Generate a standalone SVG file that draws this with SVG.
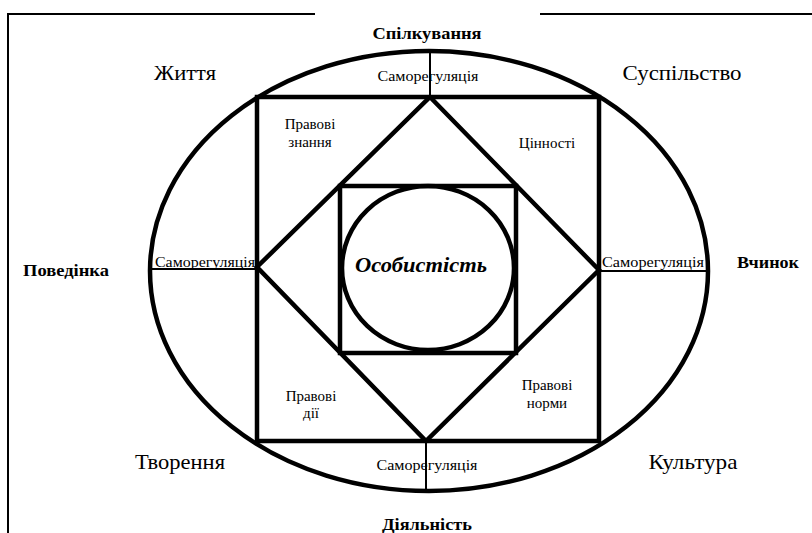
<svg xmlns="http://www.w3.org/2000/svg" width="812" height="533" viewBox="0 0 812 533">
<style>
text{font-family:'Liberation Serif','Times New Roman',serif;fill:#000;text-anchor:middle}
.big{font-size:21px}
.bold{font-size:17px;font-weight:bold}
.sm{font-size:15px}
.thick{fill:none;stroke:#000;stroke-width:4.5}
.thin{fill:none;stroke:#000;stroke-width:2}
</style>
<rect width="812" height="533" fill="#fff"/>
<g id="frame">
<path class="thin" d="M8,533 V14 H315 M540,14 H812"/>
</g>
<g id="outer-ellipse"><ellipse class="thick" cx="429" cy="271" rx="279" ry="220"/></g>
<g id="outer-rect"><rect class="thick" x="257" y="97" width="342" height="344"/></g>
<g id="diamond"><polygon class="thick" points="430,97 599,270 426,441 257,267"/></g>
<g id="inner-square"><rect class="thick" x="340" y="186" width="176" height="167"/></g>
<g id="connectors">
<line class="thin" x1="430" y1="51" x2="430" y2="97"/>
<line class="thin" x1="426" y1="441" x2="426" y2="491"/>
<line class="thin" x1="150" y1="269" x2="257" y2="269"/>
<line class="thin" x1="599" y1="271" x2="708" y2="271"/>
</g>
<g id="personality">
<ellipse class="thick" cx="428" cy="268" rx="86" ry="82"/>
<text x="421" y="272" font-size="22" font-weight="bold" font-style="italic" textLength="132" lengthAdjust="spacingAndGlyphs">Особистість</text>
</g>
<g id="labels-outer">
<text class="big" x="185" y="80" textLength="62" lengthAdjust="spacingAndGlyphs">Життя</text>
<text class="big" x="682" y="80" textLength="119" lengthAdjust="spacingAndGlyphs">Суспільство</text>
<text class="big" x="180" y="469" textLength="90" lengthAdjust="spacingAndGlyphs">Творення</text>
<text class="big" x="693" y="469" textLength="89" lengthAdjust="spacingAndGlyphs">Культура</text>
<text class="bold" x="427" y="39" textLength="109" lengthAdjust="spacingAndGlyphs">Спілкування</text>
<text class="bold" x="427" y="530" textLength="90" lengthAdjust="spacingAndGlyphs">Діяльність</text>
<text class="bold" x="66" y="276" textLength="86" lengthAdjust="spacingAndGlyphs">Поведінка</text>
<text class="bold" x="768" y="268" textLength="62" lengthAdjust="spacingAndGlyphs">Вчинок</text>
</g>
<g id="labels-self">
<text class="sm" x="428" y="81" textLength="101" lengthAdjust="spacingAndGlyphs">Саморегуляція</text>
<text class="sm" x="427" y="470" textLength="101" lengthAdjust="spacingAndGlyphs">Саморегуляція</text>
<text class="sm" x="205" y="267" textLength="100" lengthAdjust="spacingAndGlyphs">Саморегуляція</text>
<text class="sm" x="653" y="267" textLength="102" lengthAdjust="spacingAndGlyphs">Саморегуляція</text>
</g>
<g id="labels-inner">
<text class="sm" x="310" y="129">Правові</text>
<text class="sm" x="310" y="147">знання</text>
<text class="sm" x="547" y="148">Цінності</text>
<text class="sm" x="311" y="401">Правові</text>
<text class="sm" x="311" y="418">дії</text>
<text class="sm" x="547" y="390">Правові</text>
<text class="sm" x="547" y="408">норми</text>
</g>
</svg>
